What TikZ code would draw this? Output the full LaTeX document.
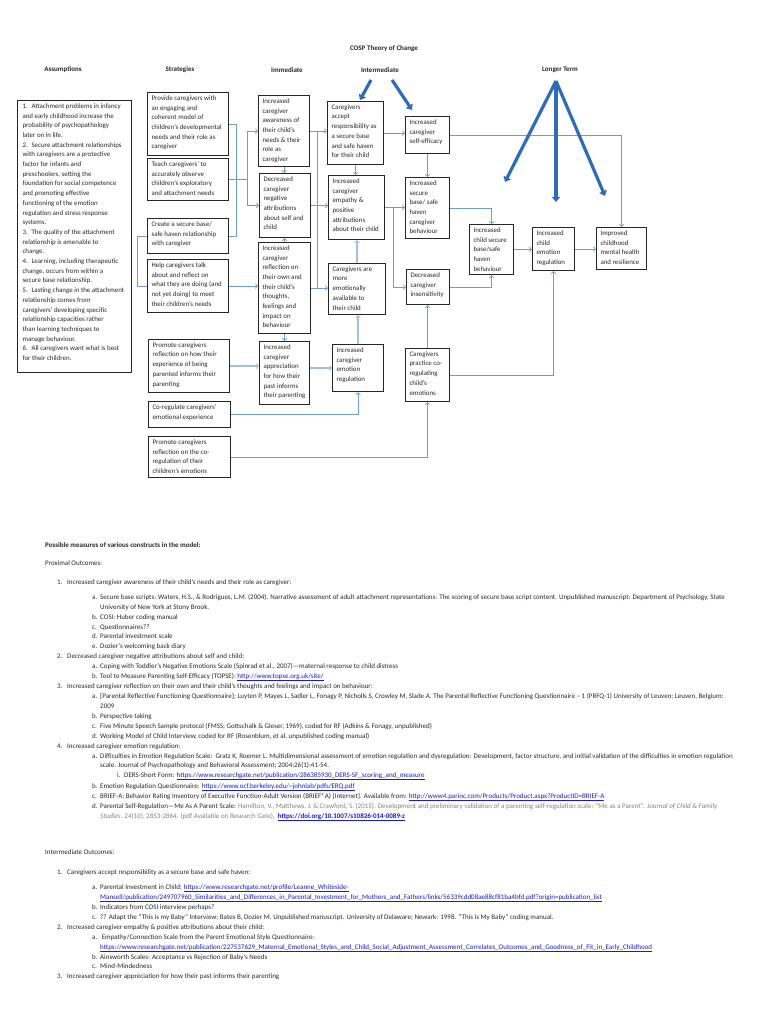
\documentclass[tikz,border=0pt]{standalone}
\usepackage{fontspec}
\setmainfont{Carlito}
\usetikzlibrary{arrows.meta}
\definecolor{thin}{RGB}{110,155,215}
\definecolor{pale}{RGB}{160,190,232}
\definecolor{dark}{RGB}{46,108,184}
\definecolor{lnk}{RGB}{25,25,220}
\definecolor{txt}{RGB}{40,40,40}
\definecolor{gry}{RGB}{130,130,130}
\newcommand\bxfont{\fontsize{6.9}{9.7}\selectfont}
\newcommand\hdfont{\fontsize{7}{8}\selectfont\bfseries}
\newcommand\tlfont{\fontsize{7}{8}\selectfont}
\newcommand\inum[1]{\makebox[10pt][l]{#1}}
\newcommand\ilet[1]{\makebox[8pt][l]{#1}}
\newcommand\lk[1]{{\color{lnk}\underline{#1}}}
\tikzset{
 box/.style={draw=black!85, line width=1.1pt, inner xsep=4pt, inner ysep=3pt, font=\bxfont, text=txt},
 con/.style={draw=thin, line width=0.8pt},
 arr/.style={con, -{Straight Barb[length=2.2pt,width=4.6pt,line width=0.7pt]}},
 arrp/.style={draw=pale, line width=1.8pt, -{Straight Barb[length=2.2pt,width=5pt,line width=0.8pt]}},
 thk/.style={draw=dark, line width=3.2pt, -{Triangle[length=5pt,width=8pt]}},
 hd/.style={font=\hdfont, text=txt, inner sep=0pt},
 tl/.style={font=\tlfont, text=txt, inner sep=0pt, anchor=base west},
}
\newcommand\bxx[6]{\node[box, anchor=north west] (#1) at (#2,#3) {\makebox[\dimexpr #4pt-#2pt-8pt\relax][l]{\parbox[t][\dimexpr #5pt-#3pt-6pt\relax][t]{200pt}{\raggedright #6}}};}
\newcommand\tx[4]{\node[tl] (#1) at (#2,#3+2) {#4};}
\newcommand\ai[1]{\hangindent=9pt\hangafter=1\makebox[9pt][l]{#1}}
\begin{document}
\begin{tikzpicture}[x=1pt,y=-1pt]
\fill[white] (0,0) rectangle (768,1024);
\useasboundingbox (0,0) rectangle (768,1024);

% headers
\node[hd] (title) at (384,49) {COSP Theory of Change};
\node[hd] (hAss) at (63,70) {Assumptions};
\node[hd] (hStr) at (180,70) {Strategies};
\node[hd] (hImm) at (287,70) {Immediate};
\node[hd] (hInt) at (380,70) {Intermediate};
\node[hd] (hLong) at (560,70) {Longer Term};

% assumptions
\node[box, anchor=north west, inner xsep=5pt] (ass) at (17,100) {\makebox[104pt][l]{\parbox[t][266pt][t]{200pt}{\raggedright
{\ai{1.}Attachment problems in infancy\\ and early childhood increase the\\ probability of psychopathology\\ later on in life.\par}
{\ai{2.}Secure attachment relationships\\ with caregivers are a protective\\ factor for infants and\\ preschoolers, setting the\\ foundation for social competence\\ and promoting effective\\ functioning of the emotion\\ regulation and stress response\\ systems.\par}
{\ai{3.}The quality of the attachment\\ relationship is amenable to\\ change.\par}
{\ai{4.}Learning, including therapeutic\\ change, occurs from within a\\ secure base relationship.\par}
{\ai{5.}Lasting change in the attachment\\ relationship comes from\\ caregivers' developing specific\\ relationship capacities rather\\ than learning techniques to\\ manage behaviour.\par}
{\ai{6.}All caregivers want what is best\\ for their children.\par}}}};

% strategies
\bxx{s1}{147}{92}{228}{155}{Provide caregivers with\\ an engaging and\\ coherent model of\\ children's developmental\\ needs and their role as\\ caregiver}
\bxx{s2}{147}{158}{228}{200}{Teach caregivers' to\\ accurately observe\\ children's exploratory\\ and attachment needs}
\bxx{s3}{147}{218}{228}{253}{Create a secure base/\\ safe haven relationship\\ with caregiver}
\bxx{s4}{147}{259}{228}{312}{Help caregivers talk\\ about and reflect on\\ what they are doing (and\\ not yet doing) to meet\\ their children's needs}
\bxx{s5}{148}{339}{229}{392}{Promote caregivers\\ reflection on how their\\ experience of being\\ parented informs their\\ parenting}
\bxx{s6}{148}{401}{230}{427}{Co-regulate caregivers'\\ emotional experience}
\bxx{s7}{148}{436}{230}{477}{Promote caregivers\\ reflection on the co-\\ regulation of their\\ children's emotions}

% immediate
\bxx{i1}{258}{95}{309}{166}{Increased\\ caregiver\\ awareness of\\ their child's\\ needs \& their\\ role as\\ caregiver}
\bxx{i2}{259}{173}{310}{237}{Decreased\\ caregiver\\ negative\\ attributions\\ about self and\\ child}
\bxx{i3}{258}{242}{310}{333}{Increased\\ caregiver\\ reflection on\\ their own and\\ their child's\\ thoughts,\\ feelings and\\ impact on\\ behaviour}
\bxx{i4}{259}{341}{309}{404}{Increased\\ caregiver\\ appreciation\\ for how their\\ past informs\\ their parenting}

% intermediate
\bxx{a1}{327}{101}{383}{164}{Caregivers\\ accept\\ responsibility as\\ a secure base\\ and safe haven\\ for their child}
\bxx{a2}{328}{175}{384}{239}{Increased\\ caregiver\\ empathy \&\\ positive\\ attributions\\ about their child}
\bxx{a3}{328}{263}{385}{314}{Caregivers are\\ more\\ emotionally\\ available to\\ their child}
\bxx{a4}{332}{344}{383}{391}{Increased\\ caregiver\\ emotion\\ regulation}
\bxx{b1}{405}{116}{449}{153}{Increased\\ caregiver\\ self-efficacy}
\bxx{b2}{405}{177}{449}{238}{Increased\\ secure\\ base/ safe\\ haven\\ caregiver\\ behaviour}
\bxx{b3}{406}{269}{449}{304}{Decreased\\ caregiver\\ insensitivity}
\bxx{b4}{405}{348}{449}{401}{Caregivers\\ practice co-\\ regulating\\ child's\\ emotions}
\bxx{c1}{469}{224}{513}{274}{Increased\\ child secure\\ base/safe\\ haven\\ behaviour}
\bxx{c2}{532}{227}{574}{270}{Increased\\ child\\ emotion\\ regulation}
\bxx{l1}{596}{227}{646}{269}{Improved\\ childhood\\ mental health\\ and resilience}

% bus coordinates
\coordinate (x137) at (137,0);
\coordinate (x236) at (236,0);
\coordinate (x247) at (247,0);
\coordinate (x317) at (317,0);
\coordinate (x393) at (393,0);

% strategy connectors
\draw[con] (s1.east) -| (x236 |- s3.east) -- (s3.east);
\draw[con] (s2.east) -- (x247 |- s2.east);
\draw[con] (x247 |- i1.west) -- (x247 |- i2.west);
\draw[arr] (x247 |- i1.west) -- (i1.west);
\draw[arr] (x247 |- i2.west) -- (i2.west);
\draw[con] (s3.west) -| (x137 |- s4.west) -- (s4.west);
\draw[arr] (s4.east) -- (s4.east -| i3.west);
\draw[arrp] (s5.east) -- (s5.east -| i4.west);
\draw[arr] (s6.east) -| (a4.south);
\draw[arr] (s7.east) -| (b4.south);

% immediate connectors
\draw[arr] (i1.south) -- (i1.south |- i2.north);
\draw[arr] (i3.north) -- (i3.north |- i2.south);
\draw[arr] (i3.south) -- (i3.south |- i4.north);
\draw[con] (x317 |- i1.east) -- (x317 |- i3.east);
\draw[arr] (i1.east) -- (i1.east -| a1.west);
\draw[arr] (i2.east) -- (i2.east -| a2.west);
\draw[arr] (i3.east) -- (i3.east -| a3.west);
\draw[arrp] (i4.east |- a4.west) -- (a4.west);

% intermediate connectors
\draw[arr] (a1.south) -- (a1.south |- a2.north);
\draw[arrp] (a3.north) -- (a3.north |- a2.south);
\draw[arrp] (a4.north) -- (a4.north |- a3.south);
\draw[arr] (a1.east) -- (a1.east -| b1.west);
\draw[arr] (a2.east) -- (a2.east -| b2.west);
\draw[con] (x393 |- a2.east) -- (x393 |- b3.west);
\draw[arr] (x393 |- b3.west) -- (b3.west);
\draw[arr] (b1.south) -- (b1.south |- b2.north);
\draw[arr] (b4.north) -- (b4.north |- b3.south);
\draw[arr] (b1.east) -| (l1.north);
\draw[arr] (b2.east) -| (c1.north);
\draw[arr] (b3.east) -| (c1.south);
\draw[arr] (b4.east) -| (c2.south);
\draw[arr] (c1.east) -- (c1.east -| c2.west);
\draw[arr] (c2.east) -- (c2.east -| l1.west);

% thick arrows
\coordinate (ia) at (371,80); \coordinate (iae) at (360,100);
\coordinate (ib) at (392,80); \coordinate (ibe) at (412,110);
\coordinate (lt) at (556,81);
\coordinate (le1) at (505,182); \coordinate (le2) at (556,202); \coordinate (le3) at (605,196);
\draw[thk] (ia) -- (iae);
\draw[thk] (ib) -- (ibe);
\draw[thk] (lt) -- (le1);
\draw[thk] (lt) -- (le2);
\draw[thk] (lt) -- (le3);

% bottom text
\tx{t01}{45}{545}{\textbf{Possible measures of various constructs in the model:}}
\tx{t02}{45}{563}{Proximal Outcomes:}
\tx{t03}{57}{582}{\inum{1.}Increased caregiver awareness of their child's needs and their role as caregiver:}
\tx{t04}{92}{597}{\ilet{a.}Secure base scripts: Waters, H.S., \& Rodrigues, L.M. (2004). Narrative assessment of adult attachment representations: The scoring of secure base script content. Unpublished manuscript: Department of Psychology, State}
\tx{t05}{100}{607}{University of New York at Stony Brook.}
\tx{t06}{92}{617}{\ilet{b.}COSI: Huber coding manual}
\tx{t07}{92}{627}{\ilet{c.}Questionnaires??}
\tx{t08}{92}{636}{\ilet{d.}Parental investment scale}
\tx{t09}{92}{646}{\ilet{e.}Dozier's welcoming back diary}
\tx{t10}{57}{656}{\inum{2.}Decreased caregiver negative attributions about self and child:}
\tx{t11}{92}{666}{\ilet{a.}Coping with Toddler's Negative Emotions Scale (Spinrad et al., 2007)—maternal response to child distress}
\tx{t12}{92}{676}{\ilet{b.}Tool to Measure Parenting Self-Efficacy (TOPSE): \lk{http://www.topse.org.uk/site/}}
\tx{t13}{57}{686}{\inum{3.}Increased caregiver reflection on their own and their child's thoughts and feelings and impact on behaviour:}
\tx{t14}{92}{696}{\ilet{a.}[Parental Reflective Functioning Questionnaire]; Luyten P, Mayes L, Sadler L, Fonagy P, Nicholls S, Crowley M, Slade A. The Parental Reflective Functioning Questionnaire – 1 (PRFQ-1) University of Leuven; Leuven, Belgium:}
\tx{t15}{100}{706}{2009}
\tx{t16}{92}{716}{\ilet{b.}Perspective taking}
\tx{t17}{92}{726}{\ilet{c.}Five Minute Speech Sample protocol (FMSS; Gottschalk \& Gleser, 1969), coded for RF (Adkins \& Fonagy, unpublished)}
\tx{t18}{92}{736}{\ilet{d.}Working Model of Child Interview, coded for RF (Rosenblum, et al, unpublished coding manual)}
\tx{t19}{57}{746}{\inum{4.}Increased caregiver emotion regulation:}
\tx{t20}{92}{756}{\ilet{a.}Difficulties in Emotion Regulation Scale:\ \ Gratz K, Roemer L. Multidimensional assessment of emotion regulation and dysregulation: Development, factor structure, and initial validation of the difficulties in emotion regulation}
\tx{t21}{100}{765}{scale. Journal of Psychopathology and Behavioral Assessment; 2004;26(1):41-54.}
\tx{t22}{117}{775}{\makebox[7pt][l]{i.}DERS-Short Form: \lk{https://www.researchgate.net/publication/286385930\_DERS-SF\_scoring\_and\_measure}}
\tx{t23}{92}{786}{\ilet{b.}Emotion Regulation Questionnaire: \lk{https://www.ocf.berkeley.edu/\textasciitilde johnlab/pdfs/ERQ.pdf}}
\tx{t24}{92}{796}{\ilet{c.}BRIEF-A; Behavior Rating Inventory of Executive Function-Adult Version (BRIEF®A) [Internet]. Available from: \lk{http://www4.parinc.com/Products/Product.aspx?ProductID=BRIEF-A}}
\tx{t25}{92}{806}{\ilet{d.}Parental Self-Regulation—Me As A Parent Scale: {\color{gry}Hamilton, V., Matthews, J. \& Crawford, S. (2015). Development and preliminary validation of a parenting self-regulation scale: “Me as a Parent”. \textit{Journal of Child \& Family}}}
\tx{t26}{100}{816}{{\color{gry}\textit{Studies}. 24(10), 2853-2864. (pdf Available on Research Gate).}\ \ \textbf{\lk{https://doi.org/10.1007/s10826-014-0089-z}}}
\tx{t27}{45}{852}{Intermediate Outcomes:}
\tx{t28}{57}{872}{\inum{1.}Caregivers accept responsibility as a secure base and safe haven:}
\tx{t29}{92}{887}{\ilet{a.}Parental Investment in Child: \lk{https://www.researchgate.net/profile/Leanne\_Whiteside-}}
\tx{t30}{100}{897}{\lk{Mansell/publication/249707960\_Similarities\_and\_Differences\_in\_Parental\_Investment\_for\_Mothers\_and\_Fathers/links/56339cdd08ae88cf81ba4bfd.pdf?origin=publication\_list}}
\tx{t31}{92}{907}{\ilet{b.}Indicators from COSI interview perhaps?}
\tx{t32}{92}{917}{\ilet{c.}?? Adapt the “This is my Baby” Interview; Bates B, Dozier M. Unpublished manuscript. University of Delaware; Newark: 1998. “This is My Baby” coding manual.}
\tx{t33}{57}{927}{\inum{2.}Increased caregiver empathy \& positive attributions about their child:}
\tx{t34}{92}{937}{\ilet{a.}\ Empathy/Connection Scale from the Parent Emotional Style Questionnaire:}
\tx{t35}{100}{947}{\lk{https://www.researchgate.net/publication/227537629\_Maternal\_Emotional\_Styles\_and\_Child\_Social\_Adjustment\_Assessment\_Correlates\_Outcomes\_and\_Goodness\_of\_Fit\_in\_Early\_Childhood}}
\tx{t36}{92}{957}{\ilet{b.}Ainsworth Scales: Acceptance vs Rejection of Baby's Needs}
\tx{t37}{92}{966}{\ilet{c.}Mind-Mindedness}
\tx{t38}{57}{976}{\inum{3.}Increased caregiver appreciation for how their past informs their parenting}
\end{tikzpicture}
\end{document}
